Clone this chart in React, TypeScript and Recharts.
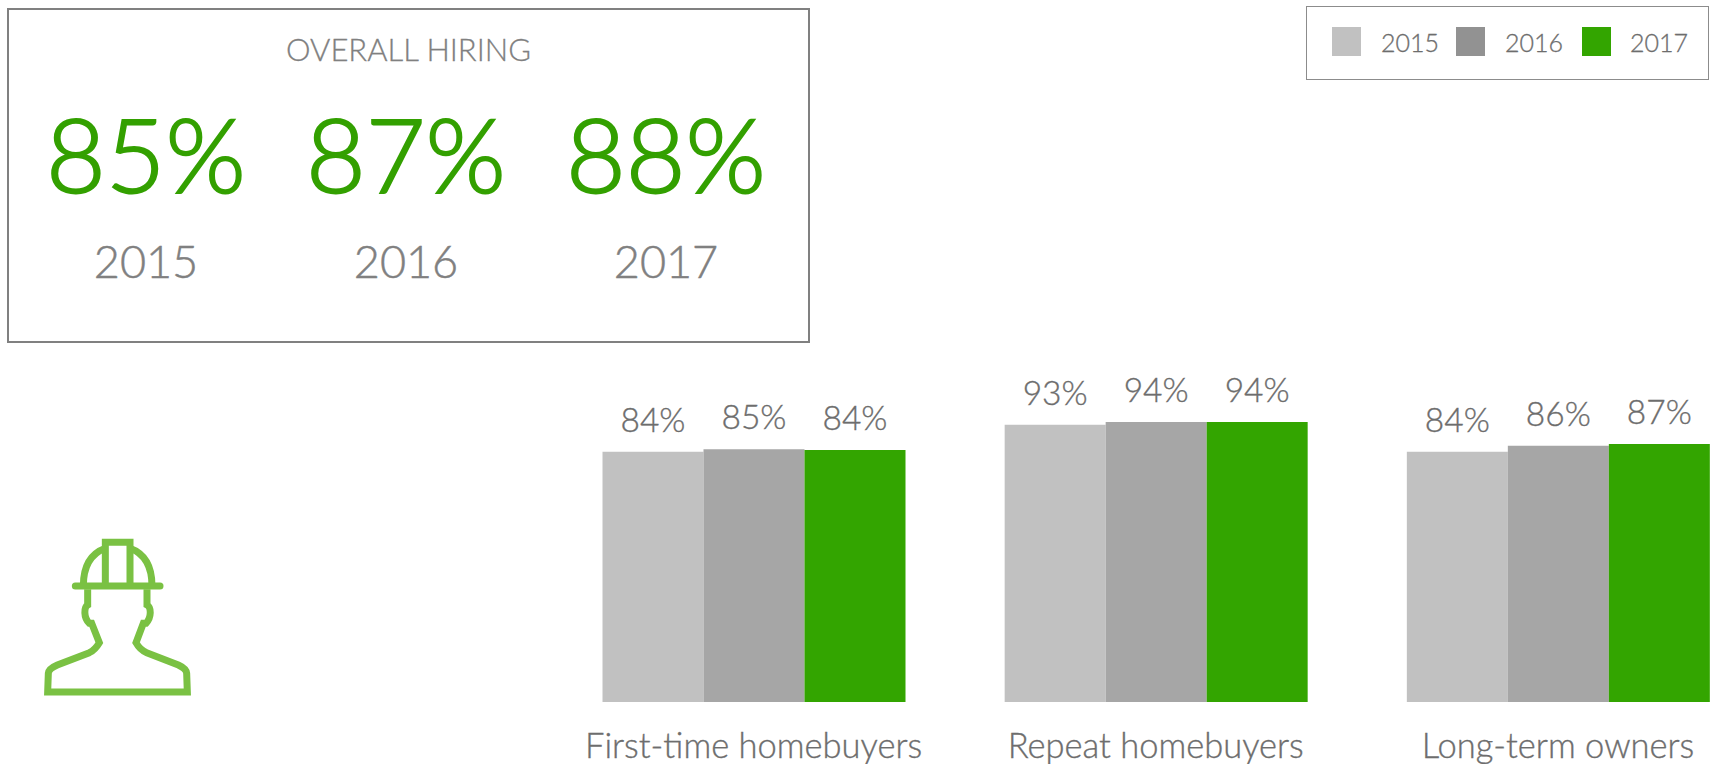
import { BarChart, Bar, XAxis, YAxis, LabelList } from 'recharts'

const FONT = 'Lato, "Open Sans", sans-serif'

const categories = ['First-time homebuyers', 'Repeat homebuyers', 'Long-term owners']
const years = ['2015', '2016', '2017']

// bar heights, labels as printed on it
const values2015 = [84, 93, 84]
const values2016 = [84.8, 94, 86]
const values2017 = [84.6, 94, 86.6]
const labels2015 = [84, 93, 84]
const labels2016 = [85, 94, 86]
const labels2017 = [84, 94, 87]

const overallValues = ['85%', '87%', '88%']

const barColors = ['#c1c1c1', '#a6a6a6', '#33a500']
const legendColors = ['#c1c1c1', '#929292', '#33a500']

const chartData = categories.map((name, i) => ({
    name,
    y2015: values2015[i],
    y2016: values2016[i],
    y2017: values2017[i],
    l2015: labels2015[i],
    l2016: labels2016[i],
    l2017: labels2017[i],
}))

const statCenters = [137, 397, 657]
const swatchLefts = [1332, 1456, 1582]
const legendTextLefts = [1381, 1505, 1630]

function HardHat() {
    return (
        <svg width={260} height={240} viewBox="0 0 780 720"
            style={{ position: 'absolute', left: 0, top: 480 }}
            fill="none" stroke="#7ac143" strokeWidth={21}>
            <line x1={226} y1={318} x2={480} y2={318} strokeLinecap="round" />
            <path d="M316 318 L316 187 L390 187 L390 318" />
            <path d="M250 318 C250 262 270 222 316 205" />
            <path d="M456 318 C456 262 436 222 390 205" />
            <path d="M263 328 L263 375 C252 382 250 412 268 430 L275 430 L298 488 Q285 510 268 518 L172 555 Q146 566 145 580 L143 636 L562 636 L560 580 Q559 566 535 555 L440 518 Q420 510 408 488 L430 430 L438 430 C455 412 454 382 441 375 L441 328" />
        </svg>
    )
}

function OverallCard() {
    return (
        <div style={{ position: 'absolute', left: 7, top: 8, width: 799, height: 331, border: '2px solid #808080' }}>
            <div style={{ position: 'absolute', left: 0, width: 799, top: 20, textAlign: 'center', fontSize: 31, fontWeight: 300, WebkitTextStroke: '0.3px #808080', color: '#808080' }}>
                OVERALL HIRING
            </div>
            {overallValues.map((v, i) => (
                <div key={v} style={{ position: 'absolute', left: statCenters[i] - 140, width: 280, top: 81, textAlign: 'center', fontSize: 103, fontWeight: 300, WebkitTextStroke: '2px #33a000', color: '#33a000' }}>
                    {v}
                </div>
            ))}
            {years.map((y, i) => (
                <div key={y} style={{ position: 'absolute', left: statCenters[i] - 100, width: 200, top: 224, textAlign: 'center', fontSize: 45, fontWeight: 300, WebkitTextStroke: '0.5px #808080', color: '#808080' }}>
                    {y}
                </div>
            ))}
        </div>
    )
}

function LegendBox() {
    return (
        <>
            <div style={{ position: 'absolute', left: 1306, top: 6, width: 401, height: 72, border: '1px solid #8c8c8c' }} />
            {years.map((y, i) => (
                <div key={y}>
                    <div style={{ position: 'absolute', left: swatchLefts[i], top: 27, width: 29, height: 29, background: legendColors[i] }} />
                    <div style={{ position: 'absolute', left: legendTextLefts[i], top: 27, fontSize: 25, fontWeight: 300, WebkitTextStroke: '0.3px #6d6d6d', color: '#6d6d6d' }}>{y}</div>
                </div>
            ))}
        </>
    )
}

export default function App() {
    const labelStyle = { fontSize: 33.5, fontWeight: 300, fill: '#6d6d6d', stroke: '#6d6d6d', strokeWidth: 0.35, fontFamily: FONT }
    const fmt = (v: unknown) => `${v}%`
    return (
        <div style={{ position: 'absolute', left: 0, top: 0, width: 1714, height: 764, overflow: 'hidden', background: '#fff', fontFamily: FONT }}>
            <OverallCard />
            <LegendBox />
            <HardHat />
            <BarChart width={1760} height={764} data={chartData} barGap={0} barCategoryGap={50}
                margin={{ top: 404, right: 1, bottom: 0, left: 552.5 }}
                style={{ position: 'absolute', left: 0, top: 0 }}>
                <XAxis dataKey="name" interval={0} height={62} axisLine={false} tickLine={false} tickSize={0} tickMargin={32}
                    tick={{ fontSize: 34.5, fontWeight: 300, fill: '#6d6d6d', stroke: '#6d6d6d', strokeWidth: 0.35, fontFamily: FONT }} />
                <YAxis hide domain={[0, 100]} />
                <Bar dataKey="y2015" fill={barColors[0]} isAnimationActive={false}>
                    <LabelList dataKey="l2015" position="top" offset={20} formatter={fmt} style={labelStyle} />
                </Bar>
                <Bar dataKey="y2016" fill={barColors[1]} isAnimationActive={false}>
                    <LabelList dataKey="l2016" position="top" offset={20} formatter={fmt} style={labelStyle} />
                </Bar>
                <Bar dataKey="y2017" fill={barColors[2]} isAnimationActive={false}>
                    <LabelList dataKey="l2017" position="top" offset={20} formatter={fmt} style={labelStyle} />
                </Bar>
            </BarChart>
        </div>
    )
}
